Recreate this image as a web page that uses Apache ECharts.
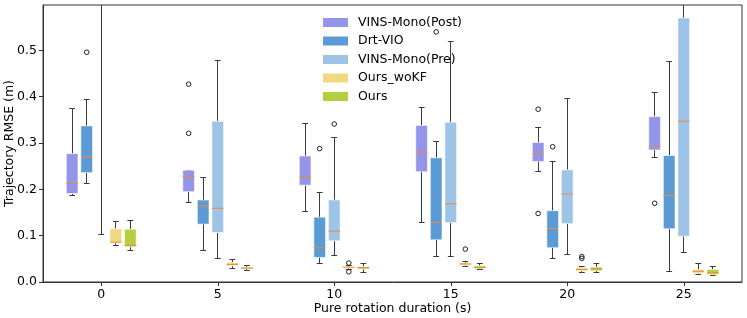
<!DOCTYPE html>
<html>
<head>
<meta charset="utf-8">
<script src="https://cdn.jsdelivr.net/npm/echarts@6/dist/echarts.min.js"></script>
<style>html,body{margin:0;padding:0;background:#fff}#c{width:747px;height:318px}</style>
</head>
<body>
<div id="c"></div>
<script>
const categories = ['0', '5', '10', '15', '20', '25'];
const seriesNames = ['VINS-Mono(Post)', 'Drt-VIO', 'VINS-Mono(Pre)', 'Ours_woKF', 'Ours'];
const seriesColors = ['#9494e8', '#5b9bd5', '#9dc3e6', '#f2d880', '#b4cf42'];

// [low whisker, Q1, median, Q3, high whisker] per category
const postBoxes = [
  [0.186, 0.191, 0.213, 0.277, 0.375],
  [0.171, 0.195, 0.228, 0.241, 0.241],
  [0.152, 0.209, 0.226, 0.272, 0.342],
  [0.128, 0.238, 0.280, 0.338, 0.377],
  [0.238, 0.260, 0.277, 0.301, 0.334],
  [0.269, 0.285, 0.293, 0.357, 0.410]
];
const drtBoxes = [
  [0.213, 0.236, 0.270, 0.337, 0.394],
  [0.067, 0.125, 0.164, 0.177, 0.226],
  [0.040, 0.053, 0.074, 0.140, 0.194],
  [0.055, 0.091, 0.129, 0.268, 0.303],
  [0.050, 0.074, 0.115, 0.154, 0.260],
  [0.022, 0.115, 0.187, 0.273, 0.475]
];
const preBoxes = [
  [0.103, 0.620, 0.750, 0.900, 1.100],
  [0.051, 0.107, 0.159, 0.347, 0.478],
  [0.057, 0.089, 0.110, 0.177, 0.311],
  [0.054, 0.128, 0.169, 0.345, 0.519],
  [0.060, 0.126, 0.190, 0.242, 0.396],
  [0.064, 0.099, 0.347, 0.570, 0.750]
];
const woKFBoxes = [
  [0.078, 0.084, 0.086, 0.115, 0.130],
  [0.029, 0.035, 0.038, 0.042, 0.049],
  [0.027, 0.030, 0.032, 0.033, 0.035],
  [0.034, 0.036, 0.039, 0.041, 0.045],
  [0.020, 0.024, 0.027, 0.031, 0.033],
  [0.017, 0.019, 0.023, 0.027, 0.040]
];
const oursBoxes = [
  [0.067, 0.076, 0.079, 0.114, 0.132],
  [0.024, 0.028, 0.030, 0.032, 0.035],
  [0.021, 0.028, 0.031, 0.033, 0.040],
  [0.026, 0.029, 0.031, 0.035, 0.041],
  [0.020, 0.024, 0.029, 0.032, 0.040],
  [0.014, 0.016, 0.020, 0.027, 0.034]
];

// outliers: [category index, value]
const postOutliers = [[1, 0.427], [1, 0.321], [4, 0.373], [4, 0.148], [5, 0.170]];
const drtOutliers = [[0, 0.496], [2, 0.288], [3, 0.540], [4, 0.292]];
const preOutliers = [[2, 0.341]];
const woKFOutliers = [[2, 0.041], [2, 0.022], [3, 0.071], [4, 0.055], [4, 0.051]];
const oursOutliers = [];

const allBoxes = [postBoxes, drtBoxes, preBoxes, woKFBoxes, oursBoxes];
const allOutliers = [postOutliers, drtOutliers, preOutliers, woKFOutliers, oursOutliers];

const PITCH = 0.125, WIDTH = 0.1;
const LINE = '#3a3a3a';
const crisp = v => Math.round(v - 0.5) + 0.5;

function boxRenderer(slot) {
  return function (params, api) {
    const ci = api.value(0);
    const band = api.size([1, 0])[0];
    const c = api.coord([ci, 0]);
    const cx = c[0] + (slot - 2) * PITCH * band;
    const w = WIDTH * band;
    const x = crisp(cx);
    const y = k => api.coord([ci, api.value(k)])[1];
    const yl = y(1), yq1 = y(2), ym = y(3), yq3 = y(4), yh = y(5);
    const color = api.visual('color');
    const cap = w * 0.5;
    const ls = { stroke: LINE, lineWidth: 1 };
    return {
      type: 'group',
      children: [
        { type: 'line', shape: { x1: x, y1: yq1, x2: x, y2: yl }, style: ls },
        { type: 'line', shape: { x1: x, y1: yq3, x2: x, y2: yh }, style: ls },
        { type: 'line', shape: { x1: cx - cap / 2, y1: crisp(yl), x2: cx + cap / 2, y2: crisp(yl) }, style: ls },
        { type: 'line', shape: { x1: cx - cap / 2, y1: crisp(yh), x2: cx + cap / 2, y2: crisp(yh) }, style: ls },
        { type: 'rect', shape: { x: cx - w / 2, y: yq3, width: w, height: yq1 - yq3 },
          style: { fill: color, stroke: 'rgba(255,255,255,0.55)', lineWidth: 1 } },
        { type: 'line', shape: { x1: cx - w / 2, y1: ym, x2: cx + w / 2, y2: ym },
          style: { stroke: '#f08a3a', lineWidth: 1 } }
      ]
    };
  };
}

function outlierRenderer(slot) {
  return function (params, api) {
    const ci = api.value(0);
    const band = api.size([1, 0])[0];
    const p = api.coord([ci, api.value(1)]);
    const cx = p[0] + (slot - 2) * PITCH * band;
    return {
      type: 'circle',
      shape: { cx: cx, cy: p[1], r: 2.3 },
      style: { fill: 'none', stroke: '#222', lineWidth: 1 }
    };
  };
}

const series = [];
seriesNames.forEach((name, i) => {
  series.push({
    type: 'custom',
    name: name,
    clip: true,
    itemStyle: { color: seriesColors[i] },
    encode: { x: 0, y: [1, 2, 3, 4, 5] },
    data: allBoxes[i].map((b, ci) => [ci].concat(b)),
    renderItem: boxRenderer(i),
    z: 2
  });
  series.push({
    type: 'custom',
    name: name + '_out',
    clip: true,
    encode: { x: 0, y: 1 },
    data: allOutliers[i],
    renderItem: outlierRenderer(i),
    z: 3
  });
});

const FONT = 'DejaVu Sans';
const FS = 12.5;
const chart = echarts.init(document.getElementById('c'));
chart.setOption({
  animation: false,
  backgroundColor: '#fff',
  textStyle: { fontFamily: FONT },
  grid: { left: 43, right: 5, top: 5, bottom: 36, outerBoundsMode: 'none', containLabel: false,
          show: true, borderColor: '#333', borderWidth: 1, backgroundColor: 'transparent' },
  legend: {
    orient: 'vertical',
    left: 318,
    top: 11,
    itemWidth: 25,
    itemHeight: 9,
    itemGap: 5.5,
    icon: 'rect',
    data: seriesNames,
    textStyle: { fontFamily: FONT, fontSize: FS, color: '#000', padding: [0, 0, 0, 5] }
  },
  xAxis: {
    type: 'category',
    data: categories,
    boundaryGap: true,
    name: 'Pure rotation duration (s)',
    nameLocation: 'middle',
    nameGap: 20,
    nameMoveOverlap: false,
    nameTextStyle: { fontFamily: FONT, fontSize: FS, color: '#000' },
    axisLine: { show: true, lineStyle: { color: '#333' } },
    axisTick: { show: true, alignWithLabel: true, length: 4, lineStyle: { color: '#333' } },
    axisLabel: { fontFamily: FONT, fontSize: FS, color: '#000', margin: 6 },
    splitLine: { show: false }
  },
  yAxis: {
    type: 'value',
    min: 0,
    max: 0.598,
    interval: 0.1,
    name: 'Trajectory RMSE (m)',
    nameLocation: 'middle',
    nameGap: 27,
    nameMoveOverlap: false,
    nameTextStyle: { fontFamily: FONT, fontSize: FS, color: '#000' },
    axisLine: { show: true, lineStyle: { color: '#333' } },
    axisTick: { show: true, length: 4, lineStyle: { color: '#333' } },
    axisLabel: {
      fontFamily: FONT, fontSize: FS, color: '#000', margin: 6, showMaxLabel: false,
      formatter: v => v.toFixed(1)
    },
    splitLine: { show: false }
  },
  series: series
});
</script>
</body>
</html>
